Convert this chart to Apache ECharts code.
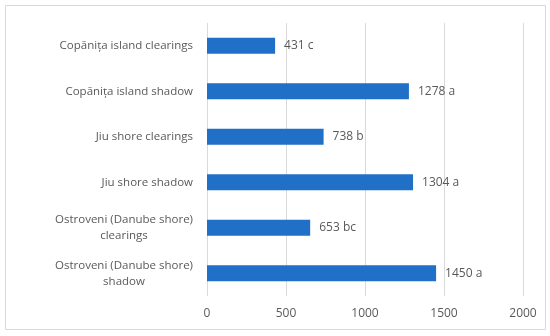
<!DOCTYPE html>
<html><head><meta charset="utf-8">
<script src="https://cdn.jsdelivr.net/npm/echarts@6/dist/echarts.min.js"></script>
<style>html,body{margin:0;padding:0;background:#fff}#c{width:550px;height:336px}</style>
</head><body><div id="c"></div>
<script>
const categories = [
  "Copănița island clearings",
  "Copănița island shadow",
  "Jiu shore clearings",
  "Jiu shore shadow",
  "Ostroveni (Danube shore)\nclearings",
  "Ostroveni (Danube shore)\nshadow"
];
const values = [431, 1278, 738, 1304, 653, 1450];
const letters = ["c", "a", "b", "a", "bc", "a"];
const xTicks = ["0", "500", "1000", "1500", "2000"];

const FONT = '"Open Sans", sans-serif';
const FS = 11.5;
const ctx = document.createElement('canvas').getContext('2d');
ctx.font = FS + 'px ' + FONT;
function fmtCat(v) {
  const lines = v.split('\n');
  if (lines.length === 1) return v;
  return lines.map(l => '{c|' + l + '}').join('\n');
}
const richW = (() => {
  let w = 0;
  categories.filter(c => c.includes('\n')).forEach(c =>
    c.split('\n').forEach(l => { w = Math.max(w, ctx.measureText(l).width); }));
  return Math.ceil(w);
})();

const chart = echarts.init(document.getElementById('c'), null, {renderer: 'canvas'});
chart.setOption({
  animation: false,
  graphic: [{
    type: 'rect', shape: {x: 5.5, y: 5.5, width: 540, height: 324},
    style: {fill: 'none', stroke: '#d9d9d9', lineWidth: 1}, silent: true
  }],
  grid: {left: 207, right: 27, top: 23, bottom: 40},
  xAxis: {
    type: 'value', min: 0, max: 2000, interval: 500,
    axisLine: {show: false}, axisTick: {show: false},
    splitLine: {lineStyle: {color: '#d9d9d9', width: 1}},
    axisLabel: {
      color: '#595959', fontSize: 12, fontFamily: FONT, margin: 12,
      formatter: (v) => { const i = Math.round(v / 500); return xTicks[i] !== undefined ? xTicks[i] : String(v); }
    }
  },
  yAxis: {
    type: 'category', data: categories, inverse: true,
    axisLine: {show: false}, axisTick: {show: false},
    axisLabel: {
      color: '#595959', fontSize: FS, fontFamily: FONT, margin: 14, lineHeight: 16,
      formatter: fmtCat,
      rich: {c: {width: richW, align: 'center', color: '#595959', fontSize: FS, fontFamily: FONT, lineHeight: 16}}
    }
  },
  series: [{
    type: 'bar', data: values, barWidth: 16,
    itemStyle: {color: '#1f70c6'},
    label: {
      show: true, position: 'right', distance: 9,
      color: '#595959', fontSize: 12, fontFamily: FONT,
      formatter: p => p.value + ' ' + letters[p.dataIndex]
    }
  }]
});
</script></body></html>
